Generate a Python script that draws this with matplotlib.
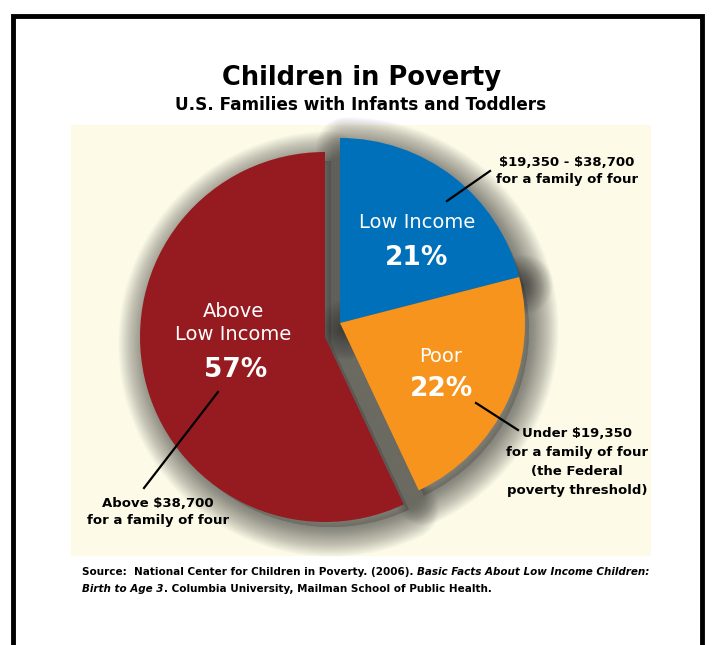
import matplotlib.pyplot as plt
from matplotlib.patches import Rectangle, Wedge

W, H = 713, 645

# data
labels = ["Low Income", "Poor", "Above\nLow Income"]
shares = [21, 22, 57]
colors = ["#0070BA", "#F7941E", "#961B20"]
notes = ["\\$19,350 - \\$38,700\nfor a family of four",
         "Under \\$19,350\nfor a family of four\n(the Federal\npoverty threshold)",
         "Above \\$38,700\nfor a family of four"]

plt.rcParams['font.family'] = ['DejaVu Sans']

fig = plt.figure(figsize=(W / 100, H / 100), dpi=100)
ax = fig.add_axes([0, 0, 1, 1])

def Y(y):
    return H - y

# frame + cream panel
ax.plot([13, 13, 702, 702], [0, Y(16), Y(16), 0], color='black', lw=3.5,
        solid_joinstyle='miter', zorder=0)
ax.add_patch(Rectangle((71, Y(555)), 579, 430, color='#FDFBE8', zorder=0))

# pie
wedges, _ = ax.pie(shares, colors=colors, startangle=90, counterclock=False,
                   center=(340, Y(323)), radius=185)
wedges[2].set_center((325, Y(337)))   # pull the big slice out to the left

# soft shadows under slices (stacked translucent strokes ~ blur)
for w in wedges:
    w.set_zorder(3)
    cx, cy = w.center
    lw = 1.0
    k = 0
    while lw < 44:
        ax.add_patch(Wedge((cx + 6, cy - 7), w.r - 2, w.theta1, w.theta2,
                           facecolor='#2a2a2a' if k % 3 == 0 else 'none',
                           edgecolor='#2a2a2a', lw=lw,
                           alpha=0.021, joinstyle='round', zorder=2))
        lw += 1.2
        k += 1

# slice labels
ax.text(417, Y(222), labels[0], color='white', fontsize=14, ha='center', va='center', zorder=5)
ax.text(417, Y(258), f"{shares[0]}%", color='white', fontsize=19, fontweight='bold',
        ha='center', va='center', zorder=5)
ax.text(441, Y(357), labels[1], color='white', fontsize=14, ha='center', va='center', zorder=5)
ax.text(442, Y(389), f"{shares[1]}%", color='white', fontsize=19, fontweight='bold',
        ha='center', va='center', zorder=5)
ax.text(233, Y(323), labels[2], color='white', fontsize=14, ha='center', va='center',
        linespacing=1.3, zorder=5)
ax.text(236, Y(370), f"{shares[2]}%", color='white', fontsize=19, fontweight='bold',
        ha='center', va='center', zorder=5)

# callouts
ax.plot([447, 490], [Y(201), Y(171)], color='black', lw=1.6, zorder=5)
ax.text(567, Y(171), notes[0], fontsize=9.5, fontweight='bold', ha='center', va='center',
        linespacing=1.45, zorder=5)
ax.plot([476, 518], [Y(403), Y(430)], color='black', lw=1.6, zorder=5)
ax.text(577, Y(462), notes[1], fontsize=9.5, fontweight='bold', ha='center', va='center',
        linespacing=1.6, zorder=5)
ax.plot([218, 144], [Y(392), Y(488)], color='black', lw=1.6, zorder=5)
ax.text(158, Y(512), notes[2], fontsize=9.5, fontweight='bold', ha='center', va='center',
        linespacing=1.45, zorder=5)

# titles
ax.text(361, Y(78), "Children in Poverty", fontsize=18.5, fontweight='bold', ha='center', va='center')
ax.text(361, Y(105), "U.S. Families with Infants and Toddlers", fontsize=12.2,
        fontweight='bold', ha='center', va='center')

# source, mixed roman / italic
t = ax.text(82, Y(575), "Source:  National Center for Children in Poverty. (2006). ",
            fontsize=7.5, fontweight='bold', va='baseline')
ax.annotate("Basic Facts About Low Income Children:", xy=(1, 0), xycoords=t,
            fontsize=7.5, fontweight='bold', style='italic', va='bottom')
t2 = ax.text(82, Y(592), "Birth to Age 3", fontsize=7.5, fontweight='bold',
             style='italic', va='baseline')
ax.annotate(". Columbia University, Mailman School of Public Health.", xy=(1, 0),
            xycoords=t2, fontsize=7.5, fontweight='bold', va='bottom')

ax.set_xlim(0, W)
ax.set_ylim(0, H)
ax.set_aspect('auto')
ax.axis('off')

fig.savefig('out.png', dpi=100, facecolor='white')
